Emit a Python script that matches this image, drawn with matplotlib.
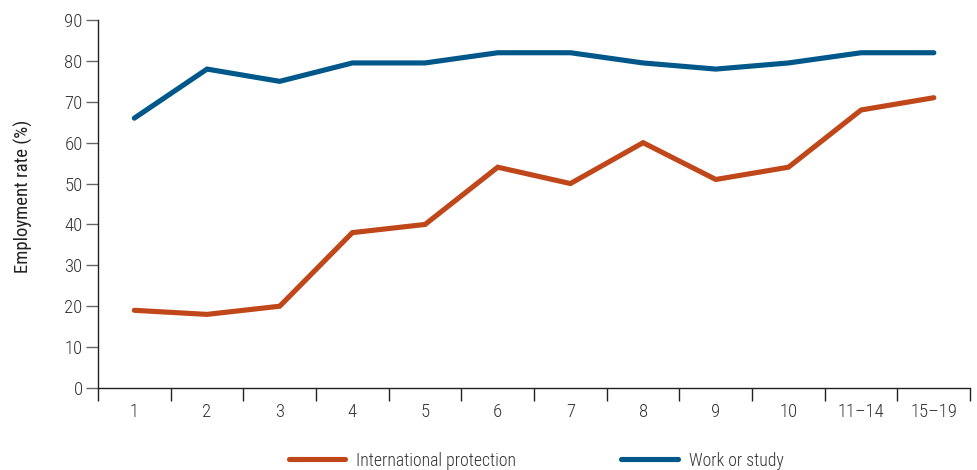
import matplotlib
matplotlib.use("Agg")
import matplotlib.pyplot as plt
from matplotlib import font_manager

names = {f.name for f in font_manager.fontManager.ttflist}
fam = [n for n in ["Roboto Condensed", "Archivo Narrow", "Liberation Sans Narrow", "Roboto", "DejaVu Sans"] if n in names]
plt.rcParams['font.family'] = fam
plt.rcParams['font.weight'] = 'light'

categories = ["1", "2", "3", "4", "5", "6", "7", "8", "9", "10", "11\u201314", "15\u201319"]
international_protection = [19, 18, 20, 38, 40, 54, 50, 60, 51, 54, 68, 71]
work_or_study = [66, 78, 75, 79.5, 79.5, 82, 82, 79.5, 78, 79.5, 82, 82]
yticks = [0, 10, 20, 30, 40, 50, 60, 70, 80, 90]

orange = "#C0471A"
blue = "#00578A"
fs = 13.5

fig = plt.figure(figsize=(9.78, 4.7), dpi=100)
ax = fig.add_axes([0.1002, 0.1745, 0.8918, 0.7829])

x = list(range(len(categories)))
l1, = ax.plot(x, international_protection, color=orange, lw=3.7, solid_capstyle='round', solid_joinstyle='miter', label="International protection")
l2, = ax.plot(x, work_or_study, color=blue, lw=3.7, solid_capstyle='round', solid_joinstyle='miter', label="Work or study")

ax.set_xlim(-0.5, len(categories) - 0.5)
ax.set_ylim(0, 90)
ax.set_yticks(yticks)
ax.set_yticklabels([str(v) for v in yticks])
ax.set_xticks([i - 0.5 for i in range(len(categories) + 1)])
ax.set_xticklabels([])
ax.set_xticks(x, minor=True)
ax.set_xticklabels(categories, minor=True)
ax.tick_params(axis='x', which='major', length=9, width=1, color='#222222', direction='out')
ax.tick_params(axis='x', which='minor', length=0, pad=11, labelsize=fs, labelcolor='#333333')
ax.tick_params(axis='y', length=9, width=1, color='#666666', labelsize=fs, labelcolor='#333333', pad=2)

for s in ['top', 'right']:
    ax.spines[s].set_visible(False)
ax.spines['left'].set_color('#222222')
ax.spines['bottom'].set_color('#222222')
ax.spines['left'].set_linewidth(1)
ax.spines['bottom'].set_linewidth(1)

ax.set_ylabel("Employment rate (%)", fontsize=fs, color='#222222', labelpad=22)
ax.yaxis.set_label_coords(-0.075, 0.52)

fig.legend(handles=[l1, l2], loc='center', bbox_to_anchor=(0.548, 0.02), ncol=2, frameon=False,
           fontsize=12.8, handlelength=3.2, handletextpad=0.6, columnspacing=5.9, labelcolor='#333333')

fig.savefig("out.png", dpi=100)
